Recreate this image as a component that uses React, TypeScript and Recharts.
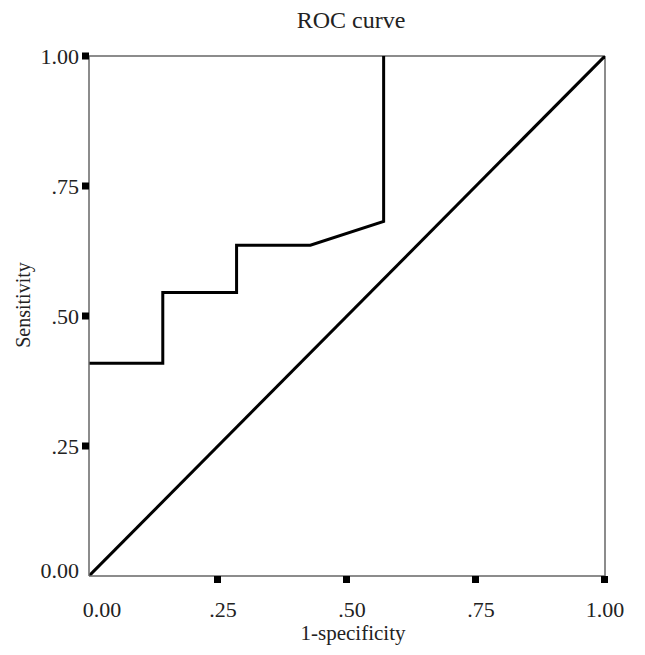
import { LineChart, Line, XAxis, YAxis, ReferenceLine, Label } from 'recharts';

// ROC curve points (1-specificity, sensitivity)
const fpr = [0, 0.143, 0.143, 0.286, 0.286, 0.429, 0.571, 0.571];
const tpr = [0.409, 0.409, 0.545, 0.545, 0.636, 0.636, 0.682, 1.0];

// chance line
const refX = [0, 1];
const refY = [0, 1];

const ticks = [0, 0.25, 0.5, 0.75, 1];
const tickLabels = ['0.00', '.25', '.50', '.75', '1.00'];

const rocData = fpr.map((x, i) => ({ x, y: tpr[i] }));
const refData = refX.map((x, i) => ({ x, y: refY[i] }));

const FONT = '"Liberation Serif", "Times New Roman", serif';
const TEXT = '#222';

const labelFor = (v: number) => tickLabels[ticks.indexOf(v)] ?? String(v);

function XTick(props: any) {
  const { x, y, payload, index } = props;
  const dx = index === 0 ? 13 : index === ticks.length - 1 ? 0 : 5;
  return (
    <g>
      {index !== 0 && (
        <rect x={payload.coordinate - 4} y={y - 18 - 7} width={7} height={7} fill="#000" />
      )}
      <text x={x + dx} y={y} dy="0.71em" textAnchor="middle" fontFamily={FONT} fontSize={22} fill={TEXT}>
        {labelFor(payload.value)}
      </text>
    </g>
  );
}

function YTick(props: any) {
  const { x, y, payload, index } = props;
  const dy = index === 0 ? -6 : 0;
  return (
    <g>
      {index !== 0 && <rect x={x + 3} y={y - 3.5} width={7} height={7} fill="#000" />}
      <text x={x} y={y + dy} dy="0.355em" textAnchor="end" fontFamily={FONT} fontSize={22} fill={TEXT}>
        {labelFor(payload.value)}
      </text>
    </g>
  );
}

export default function App() {
  return (
    <div style={{ position: 'absolute', left: 0, top: 0, width: 645, height: 655, background: '#fff' }}>
      <div
        style={{
          position: 'absolute',
          left: 251,
          top: 8,
          width: 200,
          textAlign: 'center',
          fontFamily: FONT,
          fontSize: 24,
          lineHeight: '24px',
          color: TEXT,
        }}
      >
        ROC curve
      </div>
      <LineChart width={645} height={655} margin={{ top: 56, right: 40, bottom: 15, left: 0 }}>
        <XAxis
          type="number"
          dataKey="x"
          domain={[0, 1]}
          ticks={ticks}
          allowDataOverflow
          height={64}
          tickSize={7}
          tickMargin={18}
          tickLine={false}
          axisLine={{ stroke: '#666', strokeWidth: 1.5 }}
          tick={<XTick />}
        >
          <Label
            value="1-specificity"
            position="insideBottom"
            offset={0}
            dx={6}
            style={{ fontFamily: FONT, fontSize: 21, fill: TEXT, textAnchor: 'middle' }}
          />
        </XAxis>
        <YAxis
          type="number"
          dataKey="y"
          domain={[0, 1]}
          ticks={ticks}
          allowDataOverflow
          width={89}
          tickSize={7}
          tickMargin={3}
          tickLine={false}
          axisLine={{ stroke: '#666', strokeWidth: 1.5 }}
          tick={<YTick />}
        >
          <Label
            content={() => (
              <text
                x={23}
                y={305}
                transform="rotate(-90 23 305)"
                textAnchor="middle"
                dominantBaseline="central"
                fontFamily={FONT}
                fontSize={20}
                fill={TEXT}
              >
                Sensitivity
              </text>
            )}
          />
        </YAxis>
        <ReferenceLine y={1} stroke="#666" strokeWidth={1.5} />
        <ReferenceLine x={1} stroke="#666" strokeWidth={1.5} />
        <Line
          data={refData}
          dataKey="y"
          type="linear"
          stroke="#000"
          strokeWidth={3}
          dot={false}
          activeDot={false}
          isAnimationActive={false}
        />
        <Line
          data={rocData}
          dataKey="y"
          type="linear"
          stroke="#000"
          strokeWidth={3}
          dot={false}
          activeDot={false}
          isAnimationActive={false}
        />
      </LineChart>
    </div>
  );
}
